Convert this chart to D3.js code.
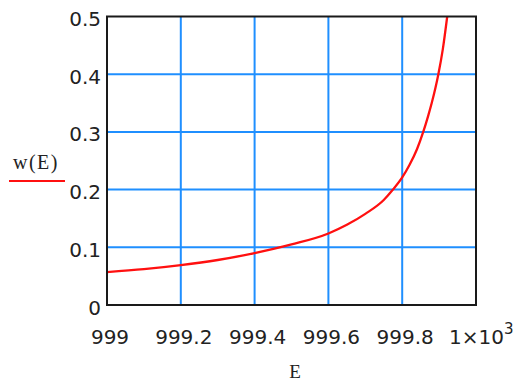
<!DOCTYPE html>
<html>
<head>
<meta charset="utf-8">
<script src="https://cdn.jsdelivr.net/npm/d3@7"></script>
<style>
  html, body { margin: 0; padding: 0; background: #fff; }
  svg { display: block; }
</style>
</head>
<body>
<svg id="chart" width="515" height="381"></svg>
<script>
// Energy samples E and the function value w(E)
const energies = [999, 999.1, 999.2, 999.3, 999.4, 999.5, 999.6, 999.65, 999.7, 999.75,
                  999.775, 999.8, 999.82, 999.84, 999.857, 999.87, 999.88, 999.89,
                  999.898, 999.91, 999.922];
const wValues  = [0.057, 0.062, 0.069, 0.078, 0.090, 0.105, 0.124, 0.139, 0.158, 0.182,
                  0.200, 0.221, 0.243, 0.270, 0.300, 0.327, 0.350, 0.376,
                  0.400, 0.443, 0.500];

const xTicks = [999, 999.2, 999.4, 999.6, 999.8, 1000];
const xTickLabels = ["999", "999.2", "999.4", "999.6", "999.8", "1\u00d710"];
const yTicks = [0, 0.1, 0.2, 0.3, 0.4, 0.5];
const yTickLabels = ["0", "0.1", "0.2", "0.3", "0.4", "0.5"];
const xTitle = "E";
const seriesName = "w(E)";

const svg = d3.select("#chart");
const plotLeft = 107, plotRight = 476, plotTop = 16.5, plotBottom = 305;

const x = d3.scaleLinear().domain([999, 1000]).range([plotLeft, plotRight]);
const y = d3.scaleLinear().domain([0, 0.5]).range([plotBottom, plotTop]);

const gridColor = "#1f8fff";

// grid lines (inner ticks only)
const grid = svg.append("g");
grid.selectAll("line.vx")
  .data(xTicks.slice(1, -1))
  .join("line")
  .attr("x1", d => x(d)).attr("x2", d => x(d))
  .attr("y1", plotTop).attr("y2", plotBottom)
  .attr("stroke", gridColor).attr("stroke-width", 2);
grid.selectAll("line.hy")
  .data(yTicks.slice(1, -1))
  .join("line")
  .attr("x1", plotLeft).attr("x2", plotRight)
  .attr("y1", d => y(d)).attr("y2", d => y(d))
  .attr("stroke", gridColor).attr("stroke-width", 2);

// curve, clipped to the plot box
svg.append("clipPath").attr("id", "plotClip")
  .append("rect").attr("x", plotLeft).attr("y", plotTop)
  .attr("width", plotRight - plotLeft).attr("height", plotBottom - plotTop);

const line = d3.line()
  .x((d, i) => x(energies[i]))
  .y(d => y(d))
  .curve(d3.curveMonotoneX);

svg.append("path")
  .attr("clip-path", "url(#plotClip)")
  .attr("d", line(wValues))
  .attr("fill", "none")
  .attr("stroke", "#ff1010")
  .attr("stroke-width", 2.3);

// frame
svg.append("rect")
  .attr("x", plotLeft).attr("y", plotTop)
  .attr("width", plotRight - plotLeft).attr("height", plotBottom - plotTop)
  .attr("fill", "none")
  .attr("stroke", "#1a1a1a")
  .attr("stroke-width", 2);

const tickFont = "'DejaVu Sans', Verdana, sans-serif";

// y tick labels
svg.append("g").selectAll("text")
  .data(yTicks)
  .join("text")
  .attr("x", plotLeft - 6)
  .attr("y", d => y(d) + 9.5)
  .attr("text-anchor", "end")
  .attr("font-family", tickFont)
  .attr("font-size", 20)
  .attr("fill", "#222")
  .text((d, i) => yTickLabels[i]);

// x tick labels
const xl = svg.append("g").selectAll("text")
  .data(xTicks)
  .join("text")
  .attr("x", d => x(d) + 3)
  .attr("y", 344)
  .attr("text-anchor", "middle")
  .attr("font-family", tickFont)
  .attr("font-size", 20)
  .attr("fill", "#222");
xl.text((d, i) => xTickLabels[i]);
xl.filter(d => d === 1000)
  .attr("text-anchor", "start")
  .attr("x", 449)
  .append("tspan")
  .attr("dy", -10)
  .attr("font-size", 15)
  .text("3");

// axis title
svg.append("text")
  .attr("x", 295)
  .attr("y", 378)
  .attr("text-anchor", "middle")
  .attr("font-family", "'Liberation Serif', 'Times New Roman', serif")
  .attr("font-size", 19)
  .attr("fill", "#222")
  .text(xTitle);

// legend
svg.append("text")
  .attr("x", 13)
  .attr("y", 169)
  .attr("font-family", "'Liberation Serif', 'Times New Roman', serif")
  .attr("font-size", 20)
  .attr("letter-spacing", 1.5)
  .attr("fill", "#222")
  .text(seriesName);
svg.append("line")
  .attr("x1", 9).attr("x2", 65)
  .attr("y1", 181).attr("y2", 181)
  .attr("stroke", "#ff1010")
  .attr("stroke-width", 2);
</script>
</body>
</html>
